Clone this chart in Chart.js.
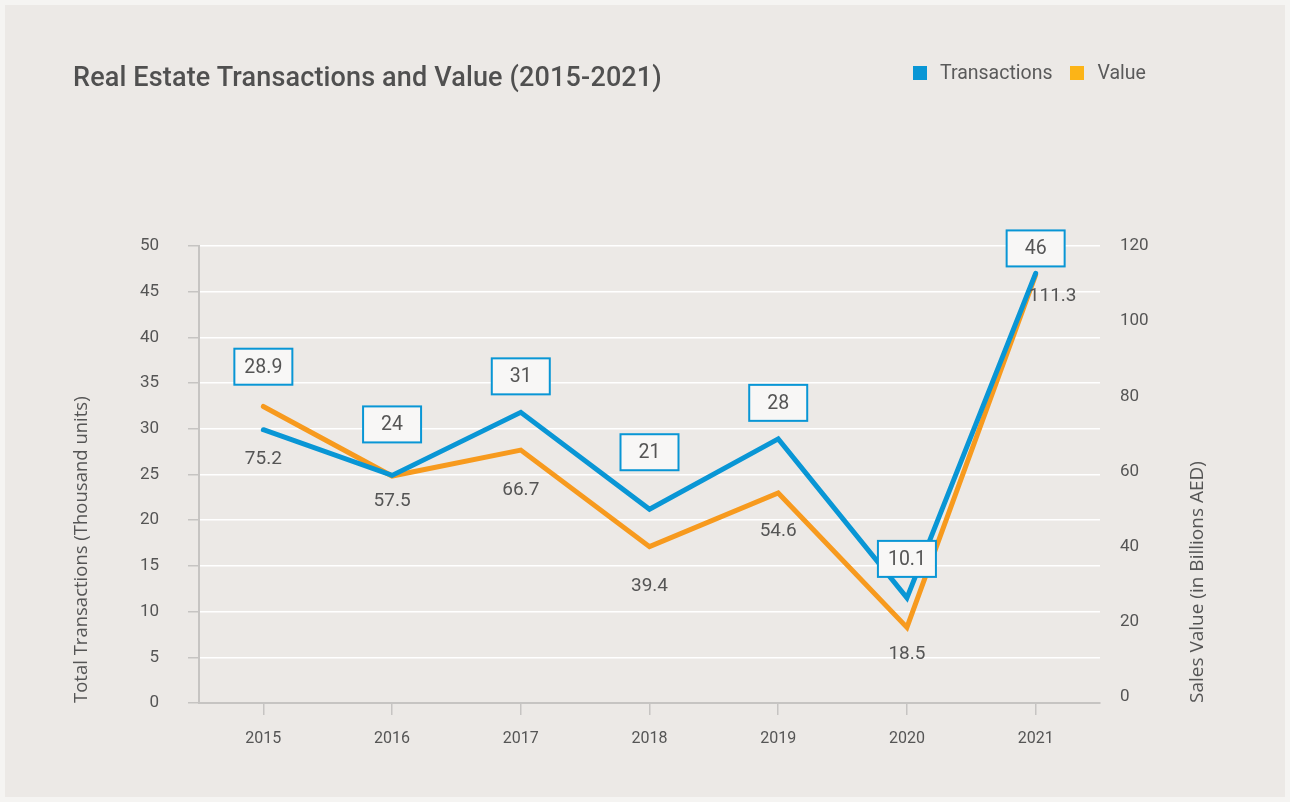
<!DOCTYPE html>
<html>
<head>
<meta charset="utf-8">
<script src="https://cdn.jsdelivr.net/npm/chart.js@4.4.1/dist/chart.umd.min.js"></script>
<style>
  html, body { margin: 0; padding: 0; background: #f5f4f2; }
  #stage { position: relative; width: 1290px; height: 802px; overflow: hidden; }
  #card { position: absolute; left: 5px; top: 5px; width: 1280px; height: 792px; background: #ECE9E6; }
  #chart { position: absolute; left: 0; top: 0; }
  #title { position: absolute; left: 73px; top: 59px; font: 500 27px Roboto, sans-serif; color: #505050; line-height: 36px; white-space: nowrap; letter-spacing: 0.15px; }
  #legend { position: absolute; left: 913px; top: 61px; font: 400 19.5px Roboto, sans-serif; color: #5a5a5a; line-height: 24px; white-space: nowrap; display: flex; align-items: center; }
  #legend .item { display: flex; align-items: center; margin-right: 18px; }
  #legend .sw { width: 14px; height: 14px; display: inline-block; margin-right: 13px; }
</style>
</head>
<body>
<div id="stage">
  <div id="card"></div>
  <canvas id="chart" width="1290" height="802"></canvas>
  <div id="title">Real Estate Transactions and Value (2015-2021)</div>
  <div id="legend"></div>
</div>
<script>
// ---- data ----
const years = ['2015', '2016', '2017', '2018', '2019', '2020', '2021'];
const transactions = [29.9, 24.9, 31.8, 21.2, 28.9, 11.5, 47.0];
const salesValue = [77.3, 58.8, 65.7, 40.0, 54.3, 18.5, 112.3];
const transactionLabels = ['28.9', '24', '31', '21', '28', '10.1', '46'];
const valueLabels = ['75.2', '57.5', '66.7', '39.4', '54.6', '18.5', '111.3'];
const leftTicks = [0, 5, 10, 15, 20, 25, 30, 35, 40, 45, 50];
const rightTicks = [0, 20, 40, 60, 80, 100, 120];
const seriesNames = ['Transactions', 'Value'];
const leftAxisTitle = 'Total Transactions (Thousand units)';
const rightAxisTitle = 'Sales Value (in Billions AED)';

// ---- layout / style (not data) ----
const BLUE = '#0996D5';
const ORANGE = '#F79A1E';
const ORANGE_LEGEND = '#FCB417';
const AXIS_GRAY = '#c6c4c2';
const TEXT = '#555555';
const AXIS_TITLE_FONT = '400 19px "Open Sans", sans-serif';
const boxOffsets = [-63, -51, -36, -57, -36, -39, -25];
const valueLabelOffsets = [[0, 53], [0, 25], [0, 40], [0, 40], [0, 38], [0, 27], [17, 21]];

// HTML legend from series names
const legendEl = document.getElementById('legend');
[[seriesNames[0], BLUE], [seriesNames[1], ORANGE_LEGEND]].forEach(([name, col]) => {
  const it = document.createElement('span');
  it.className = 'item';
  const sw = document.createElement('span');
  sw.className = 'sw';
  sw.style.background = col;
  it.appendChild(sw);
  it.appendChild(document.createTextNode(name));
  legendEl.appendChild(it);
});

const labelPlugin = {
  id: 'pointLabels',
  afterDatasetsDraw(chart) {
    const ctx = chart.ctx;
    const tMeta = chart.getDatasetMeta(0);
    const vMeta = chart.getDatasetMeta(1);
    ctx.save();
    ctx.font = '400 19px Roboto, sans-serif';
    ctx.fillStyle = TEXT;
    ctx.textAlign = 'center';
    ctx.textBaseline = 'middle';
    vMeta.data.forEach((pt, i) => {
      const [dx, dy] = valueLabelOffsets[i];
      ctx.fillText(valueLabels[i], pt.x + dx, pt.y + dy);
    });
    tMeta.data.forEach((pt, i) => {
      const w = 58, h = 36;
      const cx = pt.x, cy = pt.y + boxOffsets[i];
      ctx.fillStyle = '#F8F7F6';
      ctx.fillRect(cx - w / 2, cy - h / 2, w, h);
      ctx.lineWidth = 2;
      ctx.strokeStyle = BLUE;
      ctx.strokeRect(cx - w / 2, cy - h / 2, w, h);
      ctx.fillStyle = TEXT;
      ctx.font = '400 19.5px Roboto, sans-serif';
      ctx.fillText(transactionLabels[i], cx, cy + 1);
      ctx.font = '400 19px Roboto, sans-serif';
    });
    ctx.restore();
  },
  afterDraw(chart) {
    // right axis title, reading bottom-to-top like the left one
    const ctx = chart.ctx;
    const area = chart.chartArea;
    ctx.save();
    ctx.font = AXIS_TITLE_FONT;
    ctx.fillStyle = TEXT;
    ctx.translate(1198, area.bottom);
    ctx.rotate(-Math.PI / 2);
    ctx.textAlign = 'left';
    ctx.textBaseline = 'middle';
    ctx.fillText(rightAxisTitle, 0, 0);
    ctx.restore();
  }
};

new Chart(document.getElementById('chart'), {
  type: 'line',
  data: {
    labels: years,
    datasets: [
      {
        label: seriesNames[0], data: transactions, yAxisID: 'y',
        borderColor: BLUE, backgroundColor: BLUE, borderWidth: 5,
        pointRadius: 0, tension: 0, borderJoinStyle: 'miter', borderCapStyle: 'round'
      },
      {
        label: seriesNames[1], data: salesValue, yAxisID: 'y2',
        borderColor: ORANGE, backgroundColor: ORANGE_LEGEND, borderWidth: 5,
        pointRadius: 0, tension: 0, borderJoinStyle: 'miter', borderCapStyle: 'round'
      }
    ]
  },
  options: {
    responsive: false,
    animation: false,
    layout: { padding: { top: 246, left: 0, right: 0, bottom: 0 } },
    plugins: { legend: { display: false }, tooltip: { enabled: false }, title: { display: false } },
    scales: {
      x: {
        offset: true,
        grid: { drawOnChartArea: false, color: AXIS_GRAY, tickColor: AXIS_GRAY, tickLength: 12, lineWidth: 1.5 },
        border: { color: AXIS_GRAY, width: 2 },
        ticks: { color: TEXT, font: { family: 'Roboto', size: 16 }, padding: 14 },
        afterFit(scale) { scale.height = 99; }
      },
      y: {
        position: 'left', min: 0, max: 50,
        afterBuildTicks(scale) { scale.ticks = leftTicks.map(v => ({ value: v })); },
        grid: {
          color: (c) => (c.tick && c.tick.value === 0) ? 'rgba(0,0,0,0)' : '#ffffff',
          tickColor: AXIS_GRAY, tickLength: 11, lineWidth: 1.5
        },
        border: { color: AXIS_GRAY, width: 2 },
        ticks: { color: TEXT, font: { family: 'Roboto', size: 17 }, padding: 29 },
        title: {
          display: true, text: leftAxisTitle, align: 'start',
          color: TEXT, font: { family: 'Open Sans', size: 18.5 }, padding: { top: 71, bottom: 0 }
        },
        afterFit(scale) { scale.width = 199; }
      },
      y2: {
        position: 'right', min: -1.6, max: 120,
        afterBuildTicks(scale) { scale.ticks = rightTicks.map(v => ({ value: v })); },
        grid: { display: false, drawOnChartArea: false },
        border: { display: false },
        ticks: { color: TEXT, font: { family: 'Roboto', size: 17 }, padding: 12 },
        title: { display: false },
        afterFit(scale) { scale.width = 190; }
      }
    }
  },
  plugins: [labelPlugin]
});
</script>
</body>
</html>
